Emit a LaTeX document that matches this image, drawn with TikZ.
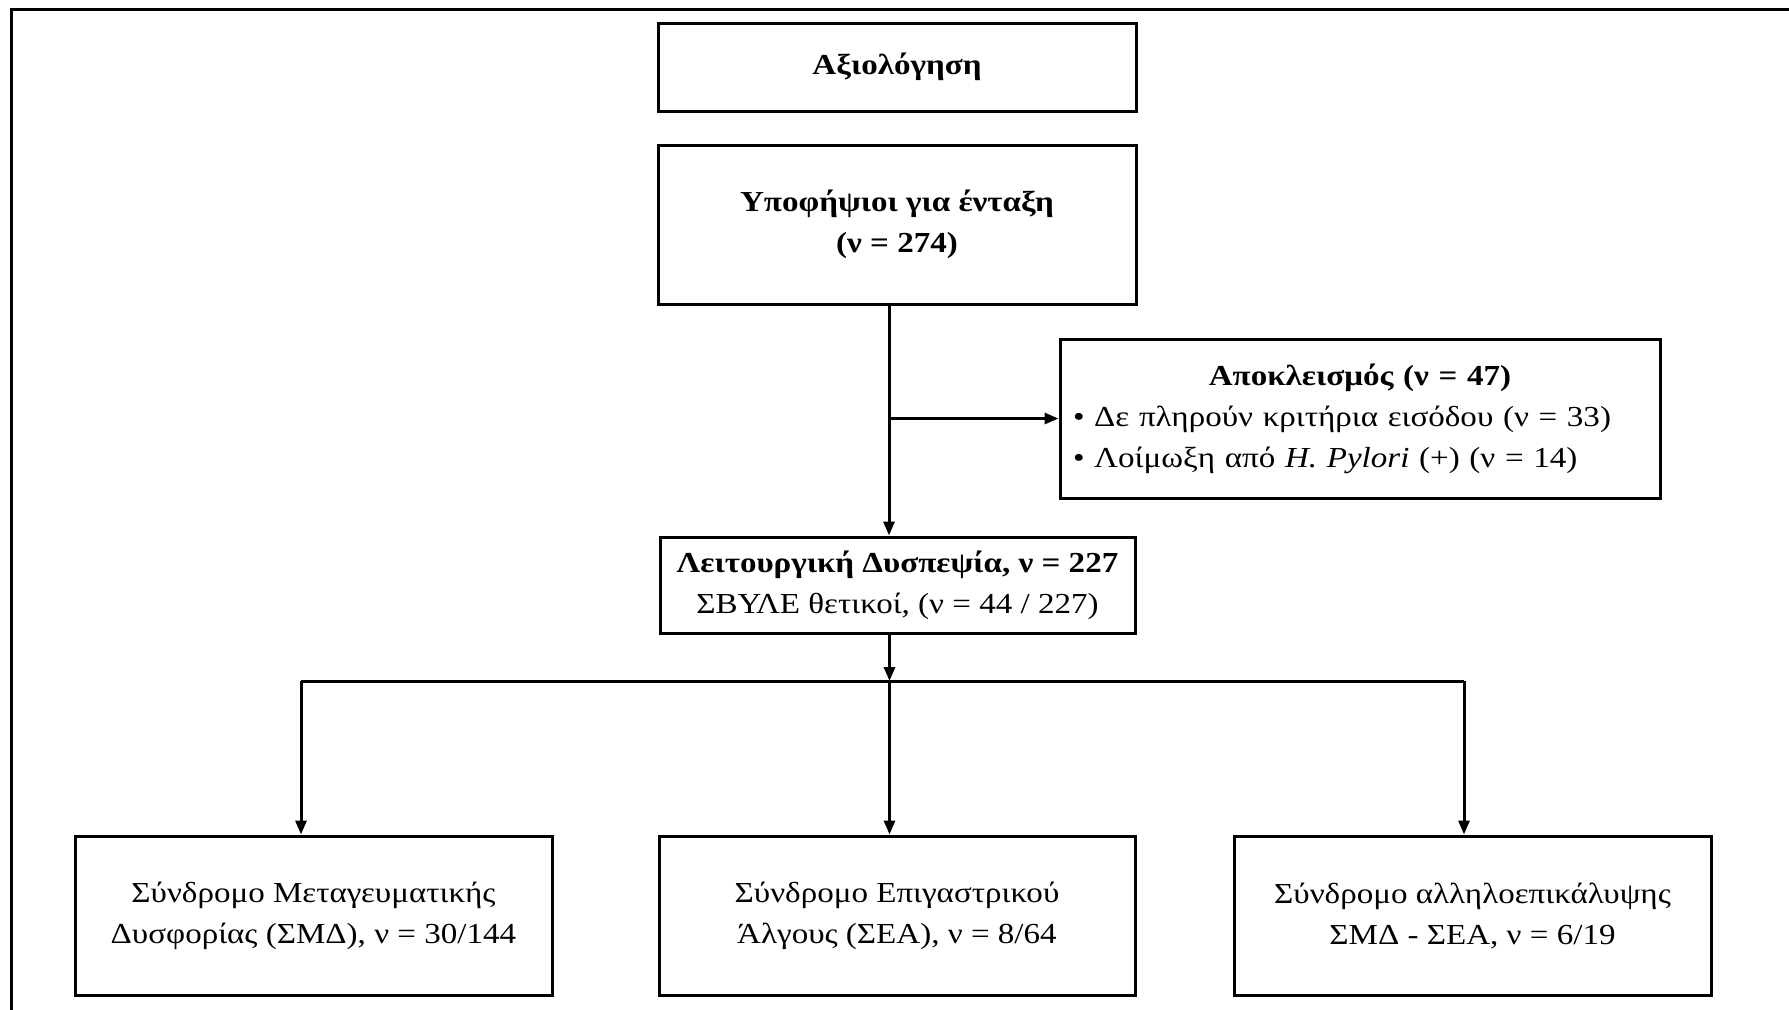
\documentclass[tikz,border=0pt]{standalone}
\usepackage{fontspec}
\setmainfont{Liberation Serif}[FakeStretch=1.14]
\usetikzlibrary{arrows.meta,calc}

\tikzset{
  box/.style={draw, line width=1.5pt, rectangle, inner sep=0pt, align=center,
    minimum width=#1, font=\fontsize{14.5pt}{20.5pt}\selectfont},
  box/.default=239pt,
  link/.style={line width=1.5pt},
  arr/.style={line width=1.5pt, -{Triangle[length=7pt,width=5.5pt]}},
}

\begin{document}
\begin{tikzpicture}[x=0.5pt, y=-0.5pt]
  \useasboundingbox (0,0) rectangle (1789,1009);
  \clip (0,0) rectangle (1789,1009);
  \fill[white] (0,0) rectangle (1789,1009);

  % outer frame (runs off the page on the right and bottom)
  \draw[line width=1.5pt] (1830,9) -- (11,9) -- (11,1040);

  % boxes
  \node[box, minimum height=44pt] (eval) at (897,67)
    {\raisebox{-2pt}{\textbf{Αξιολόγηση}}};
  \node[box, minimum height=79.5pt] (cand) at (897,224.5)
    {\textbf{Υποφήψιοι για ένταξη}\\\textbf{(ν = 274)}};
  \node[box, minimum height=79.5pt, minimum width=0pt, text width=287pt,
        inner xsep=6.5pt, align=left] (excl) at (1360,418.5)
    {\makebox[\linewidth]{\textbf{Αποκλεισμός (ν = 47)}}\\
     • Δε πληρούν κριτήρια εισόδου (ν = 33)\\
     • Λοίμωξη από \textit{H. Pylori} (+) (ν = 14)};
  \node[box, minimum width=237.5pt, minimum height=48pt] (fd) at (897.5,585)
    {\textbf{Λειτουργική Δυσπεψία, ν = 227}\\ΣΒΥΛΕ θετικοί, (ν = 44 / 227)};
  \node[box, minimum width=238.5pt, minimum height=79.5pt] (pds) at (313.5,915.5)
    {Σύνδρομο Μεταγευματικής\\Δυσφορίας (ΣΜΔ), ν = 30/144};
  \node[box, minimum width=238pt, minimum height=79.5pt] (eps) at (897,915.5)
    {Σύνδρομο Επιγαστρικού\\Άλγους (ΣΕΑ), ν = 8/64};
  \node[box, minimum width=238.5pt, minimum height=79.5pt] (ovl) at (1472.5,915.5)
    {Σύνδρομο αλληλοεπικάλυψης\\ΣΜΔ - ΣΕΑ, ν = 6/19};

  % trunk from the candidates box down to functional dyspepsia
  \coordinate (trunk) at ([xshift=-4pt]cand.south);
  \coordinate (split) at (trunk |- excl.west);
  \draw[arr] (trunk) -- (trunk |- fd.north);
  \draw[arr] (split) -- (excl.west);

  % distribution bus to the three syndromes
  \coordinate (bus) at ([xshift=-4pt]fd.south |- 0,681);
  \coordinate (busl) at (301,681);
  \coordinate (busr) at (1464,681);
  \draw[arr] ([xshift=-4pt]fd.south) -- (bus);
  \draw[link] (busl) -- (busr);
  \draw[arr] (busl) -- (busl |- pds.north);
  \draw[arr] (bus) -- (bus |- eps.north);
  \draw[arr] (busr) -- (busr |- ovl.north);
\end{tikzpicture}
\end{document}
